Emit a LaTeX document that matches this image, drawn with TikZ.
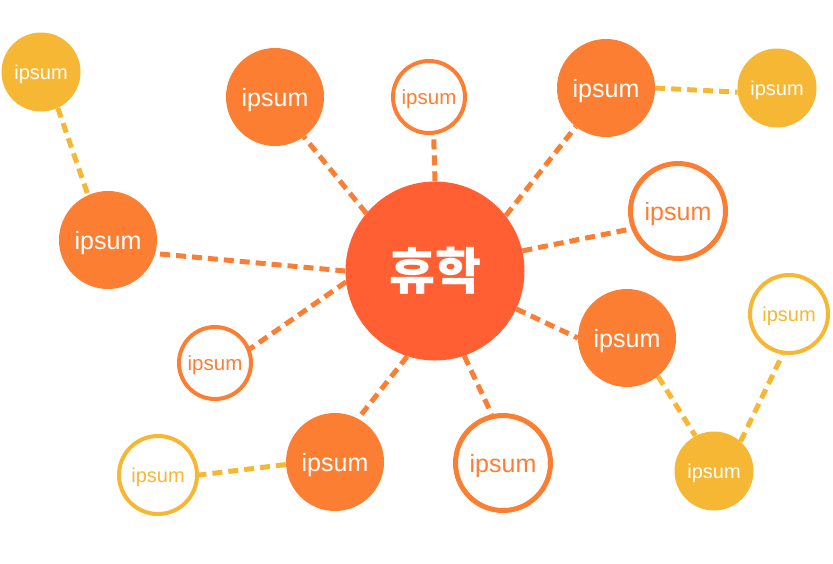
\documentclass[tikz,border=0pt]{standalone}
\usepackage{fontspec}
\setmainfont{Liberation Sans}
\newfontfamily\krfont{Noto Sans CJK KR}
\definecolor{cC}{HTML}{FF5F33}
\definecolor{cO}{HTML}{FC7E33}
\definecolor{cY}{HTML}{F6B735}
\pgfdeclarelayer{bg}
\pgfsetlayers{bg,main}
\tikzset{
  base/.style={circle, inner sep=0pt, text depth=0pt, font=\fontsize{#1}{#1}\selectfont},
  fillO/.style={base=25, fill=cO, text=white, minimum size=98},
  fillY/.style={base=20, fill=cY, text=white, minimum size=79},
  ringO/.style={base=25, draw=cO, line width=5, fill=white, text=cO, minimum size=95},
  ringOs/.style={base=20.5, draw=cO, line width=4, fill=white, text=cO, minimum size=72},
  ringY/.style={base=20, draw=cY, line width=4, fill=white, text=cY, minimum size=78},
  edgeO/.style={draw=cO, line width=5, dash pattern=on 10pt off 6pt},
  edgeY/.style={draw=cY, line width=5, dash pattern=on 10pt off 6pt},
}
\begin{document}
\begin{tikzpicture}[x=1pt,y=-1pt]
\useasboundingbox (0,0) rectangle (833,563);
\node[circle, inner sep=0pt, fill=cC, minimum size=179, text=white,
      font=\krfont\bfseries\fontsize{50}{50}\selectfont] (c) at (435,271) {휴학};
\node[fillY]  (tl)  at (41,72)   {ipsum};
\node[fillO]  (l)   at (108,240) {ipsum};
\node[fillO]  (t)   at (275,97)  {ipsum};
\node[ringOs] (ts)  at (429,97)  {ipsum};
\node[fillO]  (tr)  at (606,88)  {ipsum};
\node[fillY]  (ftr) at (777,88)  {ipsum};
\node[ringO]  (r)   at (678,211) {ipsum};
\node[fillO]  (ro)  at (627,338) {ipsum};
\node[ringY]  (fr)  at (789,314) {ipsum};
\node[fillY]  (br)  at (714,471) {ipsum};
\node[ringO]  (b)   at (503,463) {ipsum};
\node[fillO]  (bo)  at (335,462) {ipsum};
\node[ringY]  (bl)  at (158,475) {ipsum};
\node[ringOs] (ls)  at (215,363) {ipsum};
\begin{pgfonlayer}{bg}
\draw[edgeO] (c.180)   -- (l.-16);
\draw[edgeO] (c.140.5) -- (t.-54);
\draw[edgeO] (c.90)    -- (ts.-83);
\draw[edgeO] (c.38)    -- (tr.-128);
\draw[edgeO] (c.13)    -- (r.201);
\draw[edgeO] (c.-25)   -- (ro.180);
\draw[edgeO] (c.-71)   -- (b.103);
\draw[edgeO] (c.-108)  -- (bo.62);
\draw[edgeO] (c.187)   -- (ls.22);
\draw[edgeY] (tl.-65)  -- (l.114);
\draw[edgeY] (tr.0)    -- (ftr.186);
\draw[edgeY] (ro.-51.5) -- (br.118);
\draw[edgeY] (br.48)   -- (fr.-99);
\draw[edgeY] (bo.183)  -- (bl.0);
\end{pgfonlayer}
\end{tikzpicture}
\end{document}
